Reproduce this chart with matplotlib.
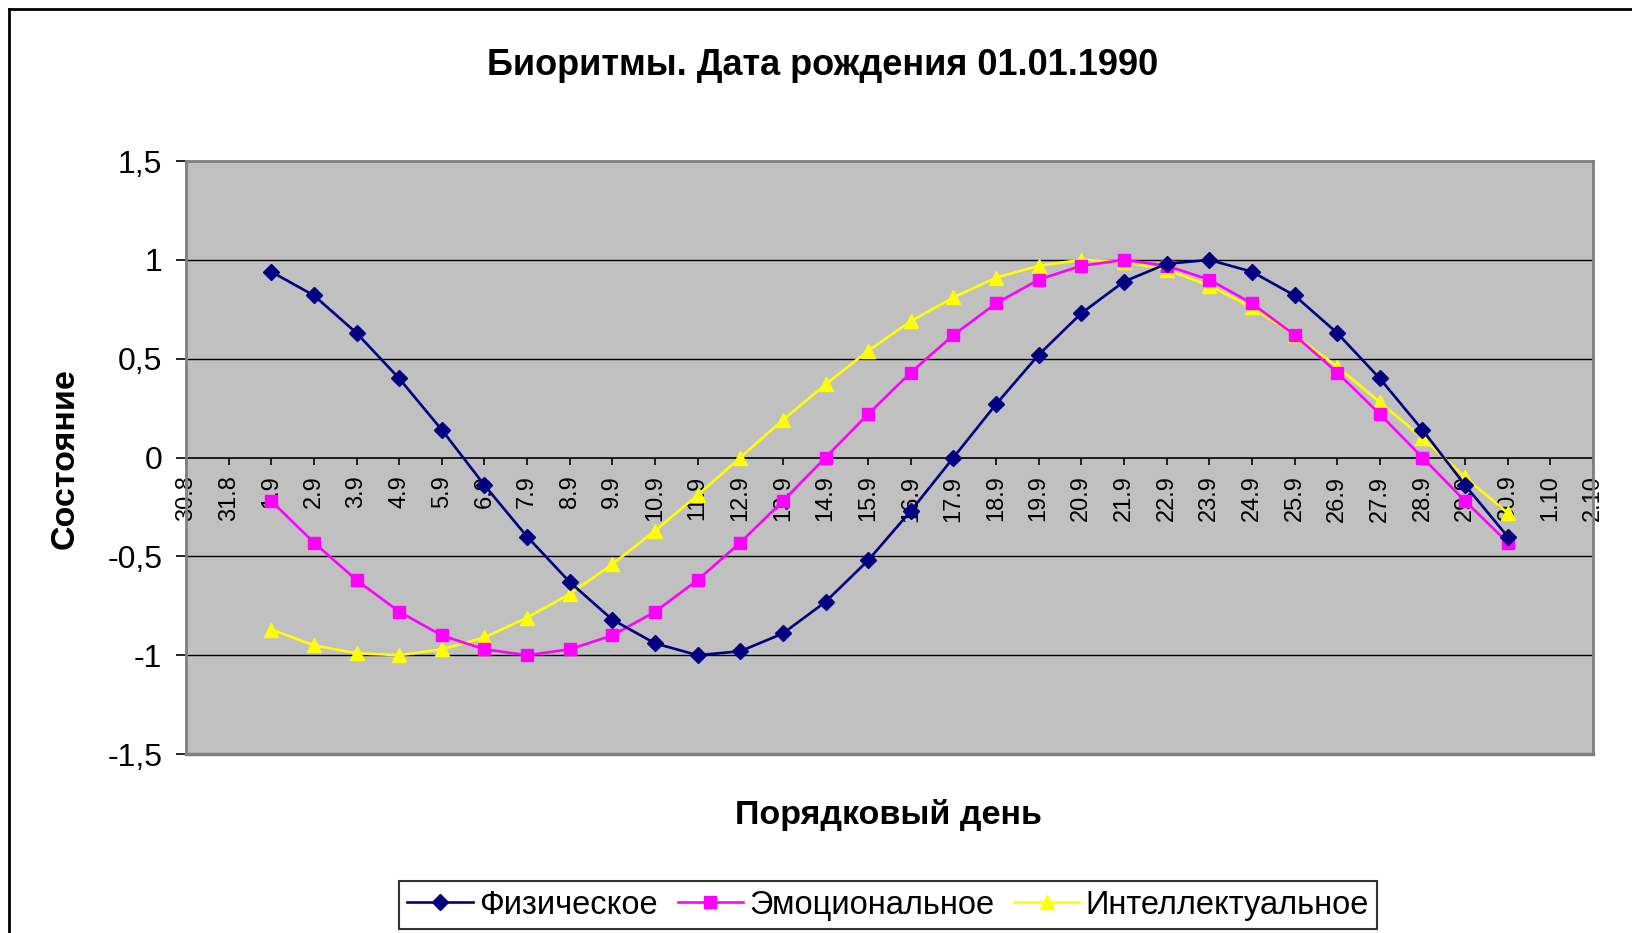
import matplotlib.pyplot as plt
from matplotlib.lines import Line2D
from matplotlib.ticker import FuncFormatter

# Категории оси X (дни) и значения биоритмов
days = ['30.8', '31.8'] + [f'{d}.9' for d in range(1, 31)] + ['1.10', '2.10']

phys_days = list(range(2, 32))  # 1.9 ... 30.9
physical = [0.94, 0.82, 0.63, 0.40, 0.14, -0.14, -0.40, -0.63, -0.82, -0.94,
            -1.00, -0.98, -0.89, -0.73, -0.52, -0.27, 0.00, 0.27, 0.52, 0.73,
            0.89, 0.98, 1.00, 0.94, 0.82, 0.63, 0.40, 0.14, -0.14, -0.40]
emotional = [-0.22, -0.43, -0.62, -0.78, -0.90, -0.97, -1.00, -0.97, -0.90, -0.78,
             -0.62, -0.43, -0.22, 0.00, 0.22, 0.43, 0.62, 0.78, 0.90, 0.97,
             1.00, 0.97, 0.90, 0.78, 0.62, 0.43, 0.22, 0.00, -0.22, -0.43]
intellectual = [-0.87, -0.95, -0.99, -1.00, -0.97, -0.91, -0.81, -0.69, -0.54, -0.37,
                -0.19, 0.00, 0.19, 0.37, 0.54, 0.69, 0.81, 0.91, 0.97, 1.00,
                0.99, 0.95, 0.87, 0.76, 0.62, 0.46, 0.28, 0.10, -0.10, -0.28]

series_names = ['Физическое', 'Эмоциональное', 'Интеллектуальное']

plt.rcParams['font.family'] = ['Liberation Sans', 'DejaVu Sans']

fig = plt.figure(figsize=(16.33, 9.33), dpi=100)
ax = fig.add_axes([0.1139, 0.1918, 0.8616, 0.6356])
ax.set_facecolor('#c0c0c0')

# outer chart border (cut off at right and bottom)
fig.add_artist(Line2D([0.0055, 0.0055], [0.0, 0.9904], transform=fig.transFigure, color='black', lw=2))
fig.add_artist(Line2D([0.0055, 1.0], [0.9904, 0.9904], transform=fig.transFigure, color='black', lw=2))

# x axis crosses at y = 0 (set before the ticks, it resets them)
ax.spines['bottom'].set_position(('data', 0))
ax.spines['bottom'].set_color('black')
ax.spines['bottom'].set_linewidth(1.2)
ax.spines['bottom'].set_zorder(1.5)
for s in ['left', 'right', 'top']:
    ax.spines[s].set_color('#808080')
    ax.spines[s].set_linewidth(2)
ax.spines['left'].set_zorder(5)

ax.set_xlim(0, len(days) - 1)
ax.set_ylim(-1.5, 1.5)
ax.set_yticks([-1.5, -1, -0.5, 0, 0.5, 1, 1.5])
ax.yaxis.set_major_formatter(FuncFormatter(lambda v, p: f'{v:g}'.replace('.', ',')))
for y in [-1, -0.5, 0.5, 1]:
    ax.axhline(y, color='black', lw=1, zorder=1)

ax.plot(phys_days, physical, color='#000080', lw=1.9, marker='D', ms=8, zorder=4,
        label=series_names[0])
ax.plot(phys_days, emotional, color='#ff00ff', lw=1.9, marker='s', ms=8.5, zorder=3,
        label=series_names[1])
ax.plot(phys_days, intellectual, color='#ffff00', lw=1.9, marker='^', ms=10, zorder=2,
        label=series_names[2])

ax.set_xticks(range(len(days)))
ax.set_xticklabels(days, rotation=90, fontsize=17)
ax.tick_params(axis='x', direction='out', length=5, width=1.2, pad=8, colors='black')
ax.tick_params(axis='y', direction='out', length=7, width=1.2, pad=10, labelsize=23,
               colors='black')

# bottom border of plot area (the x spine sits at y=0)
ax.add_artist(Line2D([0, 1], [0, 0], transform=ax.transAxes, color='#808080', lw=2.5,
                     clip_on=False))

fig.text(0.504, 0.930, 'Биоритмы. Дата рождения 01.01.1990', ha='center', va='center',
         fontsize=26, fontweight='bold')
fig.text(0.544, 0.1265, 'Порядковый день', ha='center', va='center', fontsize=24.5,
         fontweight='bold')
fig.text(0.040, 0.509, 'Состояние', ha='center', va='center', rotation=90, fontsize=24.5,
         fontweight='bold')

leg = fig.legend(loc='center', bbox_to_anchor=(0.544, 0.030), ncol=3, fontsize=23.5,
                 frameon=True, fancybox=False, edgecolor='black', handlelength=2.0,
                 handletextpad=0.2, columnspacing=0.6, borderpad=0.25)
leg.get_frame().set_linewidth(1.5)

fig.savefig('out.png', dpi=100)
